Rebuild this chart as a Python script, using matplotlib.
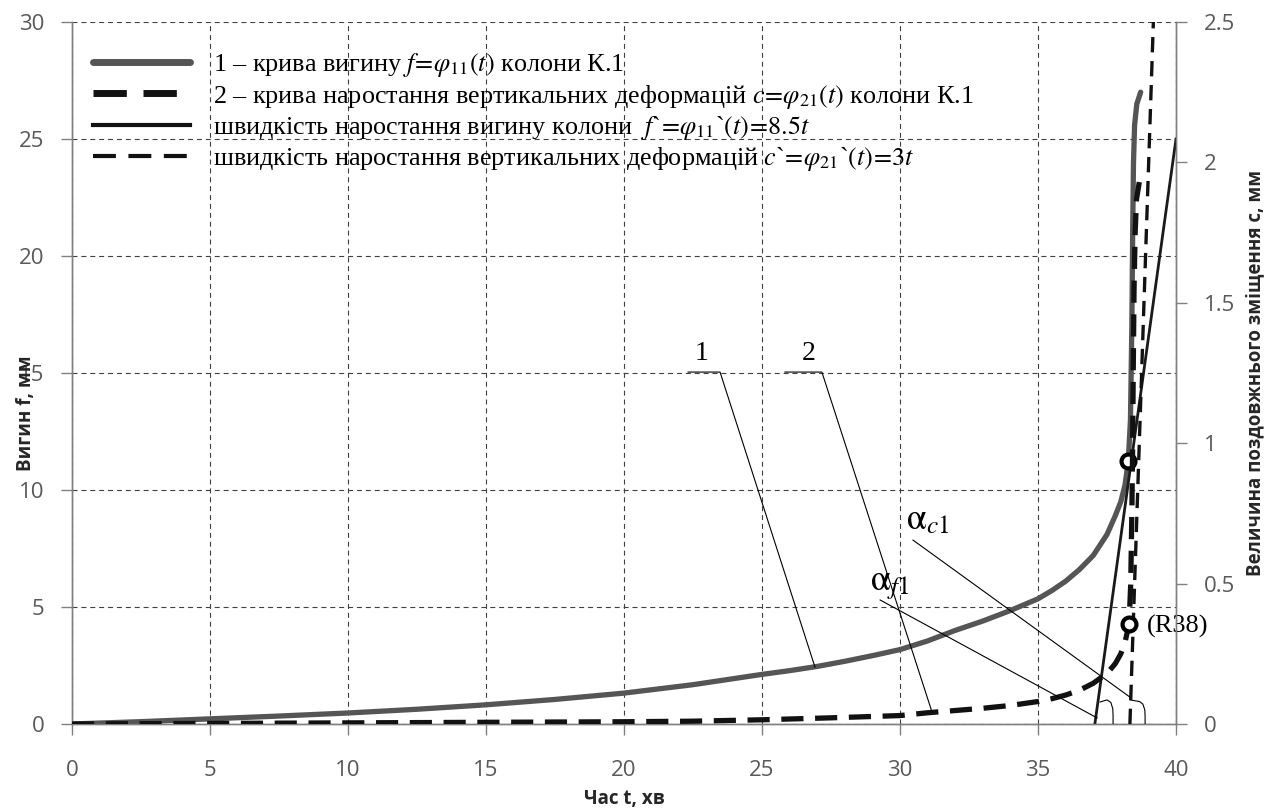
import matplotlib
matplotlib.use('Agg')
import matplotlib.pyplot as plt
from matplotlib.lines import Line2D

# ---------------- data ----------------
t1 = [0, 2.5, 5, 7.5, 10, 12.5, 15, 17.5, 20, 22.5, 25, 26, 27, 28, 29, 30, 31, 32, 33, 34,
      35, 35.5, 36, 36.5, 37, 37.5, 37.8, 38.0, 38.15, 38.27, 38.35, 38.4, 38.43, 38.46,
      38.5, 38.58, 38.72]
f1 = [0, 0.1, 0.22, 0.34, 0.47, 0.63, 0.82, 1.05, 1.32, 1.68, 2.12, 2.28, 2.46, 2.68, 2.92,
      3.18, 3.55, 4.0, 4.4, 4.85, 5.35, 5.7, 6.1, 6.6, 7.2, 8.1, 8.9, 9.5, 10.2, 11.2, 13.0,
      17.0, 21.0, 24.0, 25.6, 26.5, 27.0]

t2 = [0, 5, 10, 15, 20, 22.5, 25, 27.5, 30, 31, 32, 33, 34, 35, 35.5, 36, 36.5, 37, 37.5,
      37.8, 38.0, 38.15, 38.3, 38.36, 38.4, 38.43, 38.45, 38.48, 38.52, 38.57, 38.67]
c2 = [0, 0.002, 0.004, 0.006, 0.008, 0.01, 0.015, 0.022, 0.03, 0.04, 0.048, 0.056, 0.066,
      0.08, 0.09, 0.103, 0.12, 0.145, 0.18, 0.215, 0.25, 0.29, 0.356, 0.5, 0.75, 1.0, 1.25,
      1.55, 1.75, 1.87, 1.93]

tan_f_t = [37.06, 40.0]
tan_f_v = [0.0, 25.0]
tan_c_t = [38.33, 39.18]
tan_c_v = [0.0, 2.5]

circle_f = (38.27, 11.24)
circle_c = (38.30, 0.356)

x_ticks = [0, 5, 10, 15, 20, 25, 30, 35, 40]
yl_ticks = [0, 5, 10, 15, 20, 25, 30]
yr_ticks = [0, 0.5, 1.0, 1.5, 2.0, 2.5]
yr_labels = ['0', '0.5', '1', '1.5', '2', '2.5']

legend_labels = [
    r"1 – крива вигину $f\!=\!\varphi_{\mathit{11}}(t)$ колони К.1",
    r"2 – крива наростання вертикальних деформацій $c\!=\!\varphi_{\mathit{21}}(t)$ колони К.1",
    r"швидкість наростання вигину колони  $f$`$\!=\!\varphi_{\mathit{11}}$`$(t)\!=\!8.5t$",
    r"швидкість наростання вертикальних деформацій $c$`$\!=\!\varphi_{\mathit{21}}$`$(t)\!=\!3t$",
]

# annotation geometry (data coords of left axis)
lead1_t = [22.32, 23.48, 26.92]
lead1_f = [15.04, 15.04, 2.43]
lead2_t = [25.83, 27.17, 31.16]
lead2_f = [15.04, 15.04, 0.51]
leadc_t = [30.47, 38.33]
leadc_f = [7.86, 1.15]
leadf_t = [29.28, 37.14]
leadf_f = [5.30, 0.26]
arc1_t = [37.25, 37.5, 37.64, 37.71, 37.72, 37.72]
arc1_f = [0.94, 1.03, 0.92, 0.65, 0.35, 0.0]
arc2_t = [38.33, 38.68, 38.80, 38.87, 38.88, 38.88]
arc2_f = [1.03, 0.96, 0.85, 0.6, 0.35, 0.0]

# ---------------- style ----------------
plt.rcParams['font.family'] = ['Open Sans', 'DejaVu Sans']
plt.rcParams['mathtext.fontset'] = 'stix'
SERIF = ['Liberation Serif', 'DejaVu Serif']
TICK_C = '#595959'
AX_C = '#808080'

fig = plt.figure(figsize=(12.73, 8.09), dpi=100)
ax = fig.add_axes([72/1273, 1-724/809, 1104/1273, 702/809])
ax2 = ax.twinx()

ax.set_xlim(0, 40)
ax.set_ylim(0, 30)
ax2.set_ylim(0, 2.5)

ax.set_xticks(x_ticks)
ax.set_yticks(yl_ticks)
ax2.set_yticks(yr_ticks)
ax2.set_yticklabels(yr_labels)

ax.grid(True, color='#404040', linestyle=(0, (4.5, 3.5)), linewidth=0.8)
ax.set_axisbelow(True)

for a in (ax, ax2):
    a.spines['top'].set_visible(False)
    for s in ('left', 'right', 'bottom'):
        a.spines[s].set_color(AX_C)
        a.spines[s].set_linewidth(1.0)
ax.tick_params(axis='both', direction='out', length=8, width=1, color=AX_C,
               labelcolor=TICK_C, labelsize=16)
ax.tick_params(axis='x', pad=18)
ax.tick_params(axis='y', pad=12)
ax2.tick_params(axis='y', direction='out', length=8, width=1, color=AX_C,
                labelcolor=TICK_C, labelsize=16, pad=12)

# ---------------- series ----------------
l1, = ax.plot(t1, f1, color='#555555', lw=3.8, solid_capstyle='round', zorder=3)
l3, = ax.plot(tan_f_t, tan_f_v, color='#1a1a1a', lw=2.0, zorder=4, clip_on=True)
ax.plot(*circle_f, marker='o', ms=10, mfc='white', mec='black', mew=3, zorder=6)

l2, = ax2.plot(t2, c2, color='#111111', lw=3.8, linestyle=(0, (4.2, 2.2)), zorder=3)
l4, = ax2.plot(tan_c_t, tan_c_v, color='#111111', lw=2.4, linestyle=(0, (4.6, 2.6)), zorder=4)
ax2.plot(*circle_c, marker='o', ms=10, mfc='white', mec='black', mew=3, zorder=6)

# ---------------- annotations ----------------
for tt, ff in ((lead1_t, lead1_f), (lead2_t, lead2_f), (leadc_t, leadc_f),
               (leadf_t, leadf_f), (arc1_t, arc1_f), (arc2_t, arc2_f)):
    ax2.plot(tt, [v * 2.5 / 30 for v in ff], color='black', lw=0.8, zorder=5)

ax.text(22.8, 15.3, '1', family=SERIF, fontsize=20, ha='center', va='bottom', zorder=7)
ax.text(26.7, 15.3, '2', family=SERIF, fontsize=20, ha='center', va='bottom', zorder=7)
ax.text(30.2, 8.7, r'$\mathrm{\alpha}_{\mathit{c1}}$', fontsize=26, ha='left', va='center', zorder=7)
ax.text(28.9, 6.0, r'$\mathrm{\alpha}_{\mathit{f1}}$', fontsize=26, ha='left', va='center', zorder=7)
ax.text(38.95, 4.15, '(R38)', family=SERIF, fontsize=19, ha='left', va='center', zorder=7)

# ---------------- labels ----------------
ax.set_xlabel('Час t, хв', fontsize=13.5, fontweight='bold', color='#262626')
ax.xaxis.set_label_coords(0.5, -0.093)
ax.set_ylabel('Вигин f, мм', fontsize=13.5, fontweight='bold', color='#262626')
ax.yaxis.set_label_coords(-0.0326, 0.443)
ax2.set_ylabel('Величина поздовжнього зміщення c, мм', fontsize=13.5, fontweight='bold',
               color='#262626')
ax2.yaxis.set_label_coords(1.0625, 0.5)

# ---------------- legend ----------------
handles = [
    Line2D([], [], color='#555555', lw=5, solid_capstyle='round'),
    Line2D([], [], color='#111111', lw=5, linestyle=(0, (4.8, 2.4))),
    Line2D([], [], color='#111111', lw=3),
    Line2D([], [], color='#111111', lw=3, linestyle=(0, (5.5, 3.0))),
]
leg = ax2.legend(handles, legend_labels, loc='upper left', bbox_to_anchor=(0.019, 0.958),
                 frameon=False, borderpad=0, borderaxespad=0, handlelength=3.7,
                 handletextpad=0.9, labelspacing=0.12,
                 prop={'family': SERIF, 'size': 18.8})

fig.savefig('out.png', dpi=100)
